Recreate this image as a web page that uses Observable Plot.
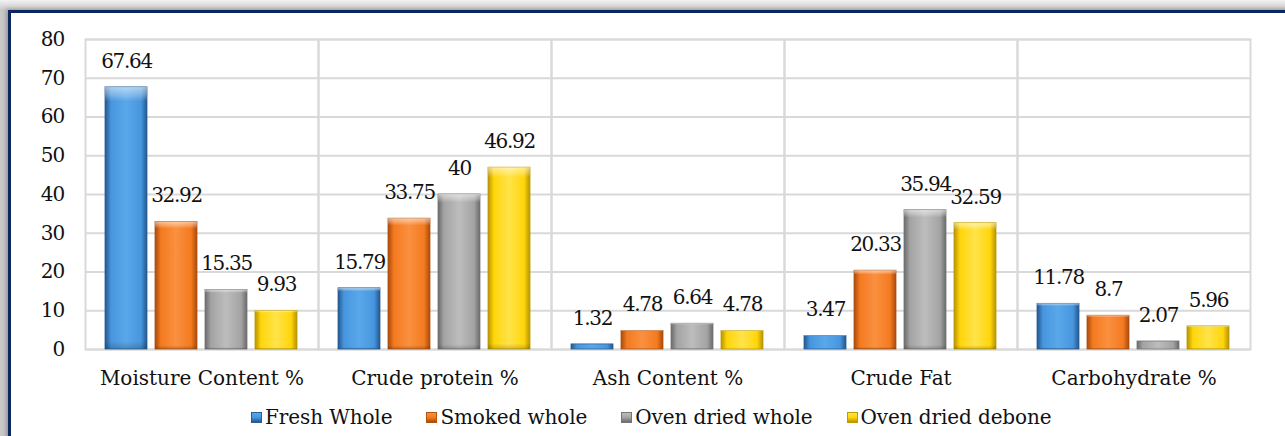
<!DOCTYPE html>
<html>
<head>
<meta charset="utf-8">
<script src="https://cdn.jsdelivr.net/npm/d3@7"></script>
<script src="https://cdn.jsdelivr.net/npm/@observablehq/plot@0.6"></script>
<style>
  html, body { margin: 0; padding: 0; }
  body { width: 1285px; height: 436px; position: relative; overflow: hidden;
         background: linear-gradient(#f2f2f2, #c9c9c9 10px); }
  #frame { position: absolute; left: 8px; top: 10px; right: -10px; bottom: -10px;
           border-left: 3px solid #0b2760; border-top: 3px solid #0b2760; background: #ffffff;
           box-shadow: -2px -1px 4px rgba(0,0,0,0.25); }
  #chart { position: absolute; left: 0; top: 0; }
  #legend { position: absolute; left: 251px; top: 404px; display: flex; gap: 34px;
            color: #111; line-height: 26px; font-family: "DejaVu Serif"; font-size: 20px; letter-spacing: -0.1px; }
  #legend .item { display: flex; align-items: center; white-space: nowrap; }
  #legend .sw { width: 11px; height: 11px; margin-right: 3px; box-sizing: border-box; }
  .ax-y text { font-family: "DejaVu Serif"; font-size: 20px; letter-spacing: -0.8px; }
  .ax-fx text { font-family: "DejaVu Serif"; font-size: 20px; }
  .vals text { font-family: "DejaVu Serif"; font-size: 20px; letter-spacing: -1.3px; }
</style>
</head>
<body>
<div id="frame"></div>
<div id="chart"></div>
<div id="legend"></div>
<script>
const categories = ["Moisture Content %", "Crude protein %", "Ash Content %", "Crude Fat", "Carbohydrate %"];
const series = ["Fresh Whole", "Smoked whole", "Oven dried whole", "Oven dried debone"];
const freshWhole = [67.64, 15.79, 1.32, 3.47, 11.78];
const smokedWhole = [32.92, 33.75, 4.78, 20.33, 8.7];
const ovenDriedWhole = [15.35, 40, 6.64, 35.94, 2.07];
const ovenDriedDebone = [9.93, 46.92, 4.78, 32.59, 5.96];
const yTicks = [0, 10, 20, 30, 40, 50, 60, 70, 80];

const seriesValues = [freshWhole, smokedWhole, ovenDriedWhole, ovenDriedDebone];
const palette = [
  {edge: "#23578e", mid: "#4795dd", light: "#5aa8ea", stroke: "#2a5f94"},
  {edge: "#a94a0c", mid: "#f47a1f", light: "#fa9040", stroke: "#b0530f"},
  {edge: "#6a6a6a", mid: "#a3a3a3", light: "#bdbdbd", stroke: "#767676"},
  {edge: "#b89300", mid: "#ffd60a", light: "#ffe34a", stroke: "#bf9a00"}
];

const data = [];
series.forEach((s, i) => {
  categories.forEach((c, j) => {
    data.push({category: c, series: s, value: seriesValues[i][j], si: i});
  });
});

const barMarks = series.map((s, i) => Plot.barY(data.filter(d => d.si === i), {
  fx: "category", x: "series", y: "value",
  fill: `url(#grad${i})`, stroke: palette[i].stroke, strokeWidth: 0.8
}));
const shineMarks = series.map((s, i) => Plot.barY(data.filter(d => d.si === i), {
  fx: "category", x: "series", y: "value",
  fill: "url(#shine)"
}));

const chart = Plot.plot({
  width: 1285,
  height: 400,
  marginLeft: 83,
  marginRight: 33,
  marginTop: 39,
  marginBottom: 51,
  style: {background: "transparent", color: "#111"},
  fx: {domain: categories, padding: 0, label: null, axis: null},
  x: {domain: series, paddingInner: 0.157, paddingOuter: 0.37, axis: null},
  y: {domain: [0, 80], label: null, axis: null},
  marks: [
    Plot.frame({stroke: "#d9d9d9", strokeWidth: 2}),
    Plot.gridY(yTicks, {stroke: "#d9d9d9", strokeOpacity: 1, strokeWidth: 2}),
    Plot.axisY(yTicks, {className: "ax-y", tickSize: 0, tickPadding: 21, fontSize: 20, label: null, tickFormat: d => String(d)}),
    Plot.axisFx({className: "ax-fx", anchor: "bottom", tickSize: 0, tickPadding: 21, fontSize: 20, label: null}),
    ...barMarks,
    ...shineMarks,
    Plot.text(data, {className: "vals", fx: "category", x: "series", y: "value", text: d => String(d.value),
      dy: -26, fontSize: 20, fill: "#111"})
  ]
});

const defs = d3.select(chart).insert("defs", ":first-child");
palette.forEach((p, i) => {
  const g = defs.append("linearGradient").attr("id", `grad${i}`)
    .attr("x1", "0").attr("y1", "0").attr("x2", "1").attr("y2", "0");
  [[0, p.edge], [0.14, p.mid], [0.5, p.light], [0.86, p.mid], [1, p.edge]].forEach(([o, c]) => {
    g.append("stop").attr("offset", o).attr("stop-color", c);
  });
});
const sh = defs.append("linearGradient").attr("id", "shine")
  .attr("x1", "0").attr("y1", "0").attr("x2", "0").attr("y2", "1");
[[0, "#ffffff", 0.55], [0.03, "#ffffff", 0.28], [0.055, "#ffffff", 0], [0.97, "#000000", 0], [1, "#000000", 0.18]]
  .forEach(([o, c, a]) => sh.append("stop").attr("offset", o).attr("stop-color", c).attr("stop-opacity", a));

document.getElementById("chart").appendChild(chart);

const legend = d3.select("#legend");
series.forEach((s, i) => {
  const item = legend.append("div").attr("class", "item");
  item.append("div").attr("class", "sw")
    .style("background", `linear-gradient(${palette[i].light}, ${palette[i].mid} 50%, ${palette[i].edge})`)
    .style("border", `1px solid ${palette[i].stroke}`);
  item.append("span").text(s);
});
</script>
</body>
</html>
